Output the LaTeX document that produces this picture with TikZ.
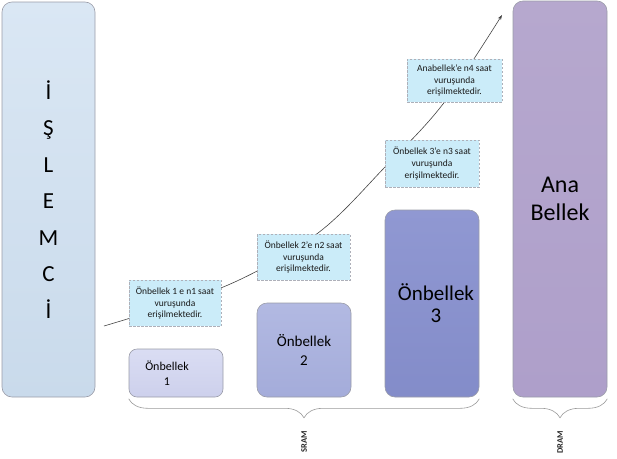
\documentclass[tikz,border=0pt]{standalone}
\usepackage{fontspec}
\setmainfont{Carlito}
\usetikzlibrary{decorations.pathreplacing,arrows.meta}
\definecolor{bordergray}{HTML}{9A9CA8}
\definecolor{procTop}{HTML}{DAE7F4}
\definecolor{procBot}{HTML}{C9DAEB}
\definecolor{cOneTop}{HTML}{DADDF3}
\definecolor{cOneBot}{HTML}{CDD0EC}
\definecolor{cTwoTop}{HTML}{B2B9E2}
\definecolor{cTwoBot}{HTML}{A4ACDA}
\definecolor{cThreeTop}{HTML}{9098D2}
\definecolor{cThreeBot}{HTML}{838CC9}
\definecolor{anaTop}{HTML}{B6A8CE}
\definecolor{anaBot}{HTML}{AE9FCA}
\definecolor{calloutfill}{HTML}{CBECF9}
\definecolor{curvegray}{HTML}{444444}
\definecolor{bracegray}{HTML}{9A9A9A}
\tikzset{
  membox/.style={draw=bordergray, line width=0.6pt, rounded corners=10pt, inner sep=0pt, align=center, text=black},
  callout/.style={draw=bordergray!80, dashed, dash pattern=on 2.5pt off 1.5pt, line width=0.5pt, fill=calloutfill, inner sep=0pt, align=center, font=\fontsize{9.5}{11.8}\selectfont, text=black!90},
  bracestyle/.style={draw=bracegray, line width=0.6pt, decorate, decoration={brace, mirror, amplitude=19pt}},
  ramlabel/.style={rotate=90, font=\bfseries\fontsize{8.5}{10}\selectfont, text=black!85}
}
\begin{document}
\begin{tikzpicture}[x=1pt,y=-1pt]
\useasboundingbox (0,0) rectangle (617,458);
% curve
\coordinate (cstart) at (104,326);
\coordinate (cend) at (502,15);
\draw[curvegray, line width=0.6pt, -{Stealth[length=5pt,width=3.5pt]}]
  plot[smooth, tension=0.55] coordinates {(cstart) (228,285) (318,233) (385,167) (443,104) (cend)};
% processor
\node[membox, top color=procTop, bottom color=procBot, minimum width=93pt, minimum height=395pt,
      font=\fontsize{23}{36.5}\selectfont] (islemci) at (48.5,199.5) {İ\\Ş\\L\\E\\M\\C\\İ};
% caches
\node[membox, rounded corners=8pt, top color=cOneTop, bottom color=cOneBot, minimum width=94pt, minimum height=48pt,
      font=\fontsize{12}{15}\selectfont] (c1) at (176,373) {Önbellek\hspace*{18pt}\\1\hspace*{18pt}};
\node[membox, top color=cTwoTop, bottom color=cTwoBot, minimum width=94pt, minimum height=94pt,
      font=\fontsize{15}{18.5}\selectfont] (c2) at (304,350) {Önbellek\\2};
\node[membox, top color=cThreeTop, bottom color=cThreeBot, minimum width=94pt, minimum height=187pt,
      font=\fontsize{21}{22}\selectfont] (c3) at (432,303.5) {\hspace*{8pt}Önbellek\\\hspace*{8pt}3};
\node[membox, top color=anaTop, bottom color=anaBot, minimum width=94pt, minimum height=396pt,
      font=\fontsize{24}{28.5}\selectfont] (ana) at (560,199) {Ana\\Bellek};
% callouts
\node[callout, minimum width=92pt, minimum height=46pt] (n1) at (175,303) {Önbellek 1 e n1 saat\\vuruşunda\\erişilmektedir.};
\node[callout, minimum width=93pt, minimum height=46pt] (n2) at (303.5,257) {Önbellek 2'e n2 saat\\vuruşunda\\erişilmektedir.};
\node[callout, minimum width=94pt, minimum height=47pt] (n3) at (432,163.5) {Önbellek 3'e n3 saat\\vuruşunda\\erişilmektedir.};
\node[callout, minimum width=95pt, minimum height=43pt] (n4) at (454.5,80.5) {Anabellek'e n4 saat\\vuruşunda\\erişilmektedir.};
% braces
\draw[bracestyle] ([yshift=-1.5pt]c1.south west) -- ([yshift=-1.5pt]c3.south east);
\draw[bracestyle] ([yshift=-1.5pt]ana.south west) -- ([yshift=-1.5pt]ana.south east);
\node[ramlabel] (sram) at (304,442) {SRAM};
\node[ramlabel] (dram) at (560,442) {DRAM};
\end{tikzpicture}
\end{document}
